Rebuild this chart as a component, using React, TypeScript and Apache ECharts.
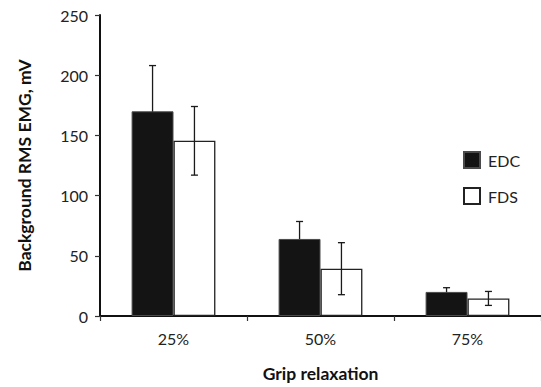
import React, { useEffect, useRef } from "react";
import * as echarts from "echarts";

const categories = ["25%", "50%", "75%"];
const seriesNames = ["EDC", "FDS"];
const edcValues = [170, 64, 20];
const edcErrors = [38, 14.5, 3.5];
const fdsValues = [145.5, 39.3, 14.6];
const fdsErrors = [28.5, 21.6, 5.8];
const yTicks = { min: 0, max: 250, interval: 50 };

const FONT = "Lato, 'Open Sans', sans-serif";
const GAP = 0.43;

function errorSeries(values: number[], errs: number[], side: number, z: number) {
  return {
    type: "custom",
    name: "err" + side,
    silent: true,
    z,
    encode: { x: 0, y: [1, 2] },
    data: values.map((v, i) => [i, v - errs[i], v + errs[i]]),
    renderItem: (params: any, api: any) => {
      const idx = api.value(0);
      const lo = api.coord([idx, api.value(1)]);
      const hi = api.coord([idx, api.value(2)]);
      const catW = api.size([1, 0])[0];
      const barW = (catW * (1 - GAP)) / 2;
      const x = lo[0] + (side * barW) / 2;
      const cap = 3.5;
      const style = { stroke: "#1a1a1a", lineWidth: 1.3 };
      return {
        type: "group",
        children: [
          { type: "line", shape: { x1: x, y1: lo[1], x2: x, y2: hi[1] }, style },
          { type: "line", shape: { x1: x - cap, y1: hi[1], x2: x + cap, y2: hi[1] }, style },
          { type: "line", shape: { x1: x - cap, y1: lo[1], x2: x + cap, y2: lo[1] }, style },
        ],
      };
    },
  };
}

export default function App() {
  const ref = useRef<HTMLDivElement>(null);
  useEffect(() => {
    if (!ref.current) return;
    const chart = echarts.init(ref.current, undefined, { renderer: "svg" });
    chart.setOption({
      animation: false,
      backgroundColor: "#ffffff",
      legend: {
        orient: "vertical",
        left: 458,
        top: 146,
        itemWidth: 16,
        itemHeight: 16,
        itemGap: 18,
        icon: "rect",
        data: seriesNames,
        textStyle: { fontFamily: FONT, fontSize: 16, color: "#222", padding: [0, 0, 0, 3] },
      },
      grid: { left: 100, right: 0, top: 15, bottom: 69, containLabel: false },
      xAxis: {
        type: "category",
        data: categories,
        name: "Grip relaxation",
        nameLocation: "middle",
        nameGap: 48,
        nameTextStyle: { fontFamily: FONT, fontSize: 17.5, fontWeight: "bold", color: "#111" },
        axisLine: { lineStyle: { color: "#111", width: 2 } },
        axisTick: { show: true, length: 5, lineStyle: { color: "#333", width: 1.2 } },
        axisLabel: { fontFamily: FONT, fontSize: 16, color: "#222", margin: 14 },
      },
      yAxis: {
        type: "value",
        min: yTicks.min,
        max: yTicks.max,
        interval: yTicks.interval,
        name: "Background RMS EMG, mV",
        nameLocation: "middle",
        nameGap: 67,
        nameTextStyle: { fontFamily: FONT, fontSize: 17.5, fontWeight: "bold", color: "#111" },
        axisLine: { show: true, lineStyle: { color: "#111", width: 2 } },
        axisTick: { show: true, length: 5, lineStyle: { color: "#333", width: 1.2 } },
        splitLine: { show: false },
        axisLabel: { fontFamily: FONT, fontSize: 16, color: "#222", margin: 12 },
      },
      series: [
        {
          name: "EDC",
          type: "bar",
          z: 3,
          data: edcValues,
          barGap: "0%",
          barCategoryGap: GAP * 100 + "%",
          itemStyle: { color: "#141414", borderColor: "#4a4a4a", borderWidth: 1 },
        },
        {
          name: "FDS",
          type: "bar",
          z: 3,
          data: fdsValues,
          itemStyle: { color: "#ffffff", borderColor: "#222", borderWidth: 1.3 },
        },
        errorSeries(edcValues, edcErrors, -1, 1),
        errorSeries(fdsValues, fdsErrors, 1, 5),
      ],
    });
    return () => chart.dispose();
  }, []);
  return (
    <div
      ref={ref}
      style={{ position: "fixed", left: 0, top: 0, width: 541, height: 387, background: "#fff" }}
    />
  );
}
